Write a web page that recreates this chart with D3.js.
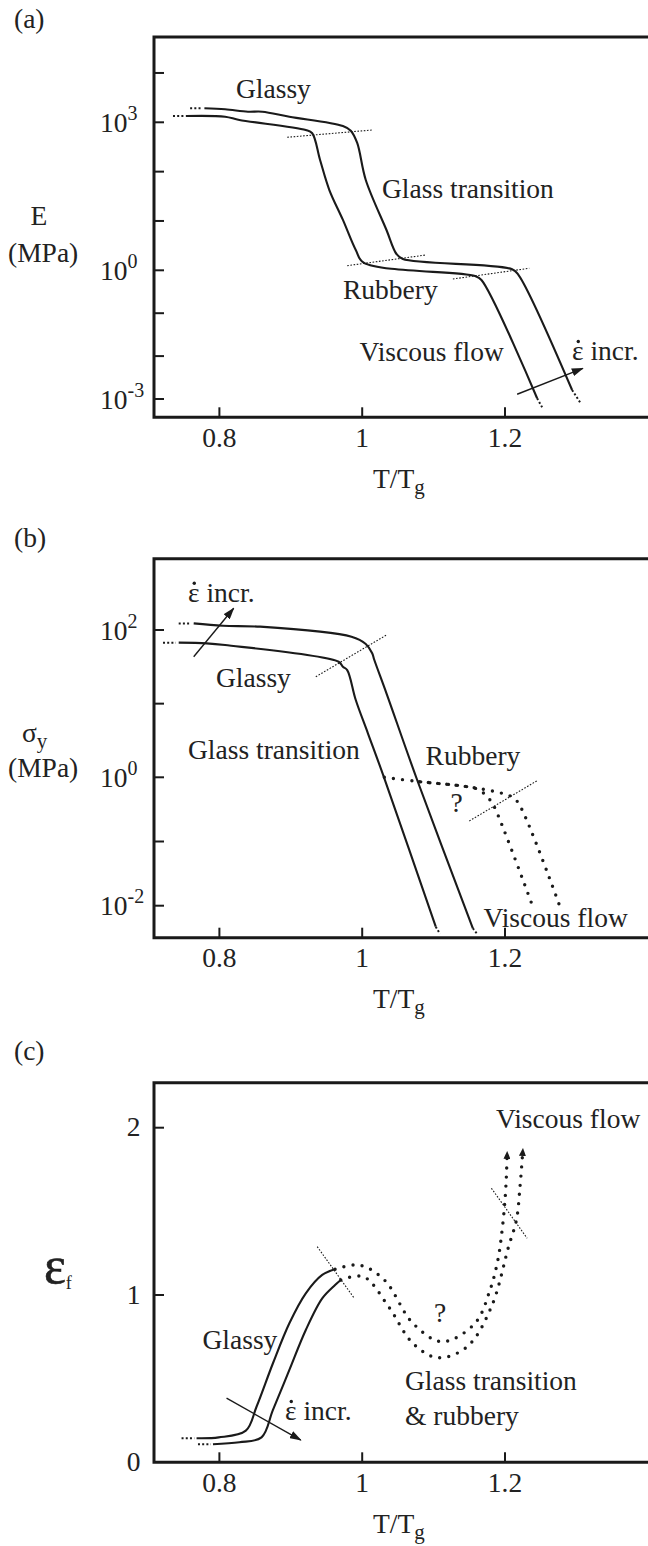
<!DOCTYPE html>
<html>
<head>
<meta charset="utf-8">
<script src="https://cdn.jsdelivr.net/npm/d3@7"></script>
<style>
  html, body { margin: 0; padding: 0; background: #fff; }
  svg { display: block; }
  text { font-family: "Liberation Serif", "Times New Roman", serif; fill: #222; }
</style>
</head>
<body>
<svg id="fig" width="648" height="1546"></svg>
<script>
// ---------- shared axis values ----------
const tempTicks = [0.8, 1.0, 1.2];
const tempTickLabels = ["0.8", "1", "1.2"];

// ---------- (a) modulus E (MPa) ----------
const modulusTicks = [1e4, 1e3, 1e2, 1e1, 1e0, 1e-1, 1e-2, 1e-3];
const modulusLabelled = [[1e3, "3"], [1e0, "0"], [1e-3, "-3"]];
const modulusSlowLead = [[0.735, 1343], [0.750, 1343]];
const modulusSlow = [[0.753, 1343], [0.808, 1300], [0.828, 1114], [0.921, 698], [0.930, 599], [0.941, 172], [0.954, 42.4], [0.973, 10.5], [0.991, 2.58], [1.002, 1.43], [1.158, 0.736], [1.167, 0.594], [1.245, 0.00104]];
const modulusSlowTail = [[1.245, 0.00104], [1.252, 0.000641]];
const modulusFastLead = [[0.759, 1920], [0.776, 1920]];
const modulusFast = [[0.779, 1920], [0.808, 1835], [0.840, 1640], [0.860, 1640], [0.898, 1300], [0.973, 842], [0.984, 676], [0.993, 381], [1.005, 67.7], [1.034, 6.56], [1.048, 2.14], [1.057, 1.69], [1.210, 1.05], [1.219, 0.777], [1.294, 0.00162]];
const modulusFastTail = [[1.294, 0.00162], [1.306, 0.000794]];
const modulusGlassyKnee = [[0.895, 497], [1.014, 698]];
const modulusRubberyOnset = [[0.979, 1.24], [1.089, 2.04]];
const modulusFlowOnset = [[1.127, 0.627], [1.234, 1.10]];
const modulusRateArrow = [[1.217, 0.00129], [1.309, 0.0052]];

// ---------- (b) yield stress sigma_y (MPa) ----------
const yieldTicks = [1e2, 1e1, 1e0, 1e-1, 1e-2];
const yieldLabelled = [[1e2, "2"], [1e0, "0"], [1e-2, "-2"]];
const yieldSlowLead = [[0.721, 67.3], [0.739, 67.3]];
const yieldSlow = [[0.743, 67.3], [0.782, 65.9], [0.808, 62.5], [0.967, 37.1], [0.973, 31.7], [0.979, 28.6], [0.991, 11.2], [1.008, 3.96], [1.031, 0.965], [1.103, 0.00471]];
const yieldSlowTail = [[1.103, 0.00471], [1.109, 0.00362]];
const yieldFastLead = [[0.743, 123], [0.760, 123]];
const yieldFast = [[0.764, 123], [0.805, 114], [0.857, 111], [0.985, 81.1], [1.005, 64.6], [1.014, 48.3], [1.017, 39.1], [1.034, 13.8], [1.077, 0.908], [1.155, 0.00445]];
const yieldFastTail = [[1.155, 0.00445], [1.161, 0.00362]];
const yieldRubberySlow = [[1.031, 1.0], [1.080, 0.854], [1.147, 0.714], [1.164, 0.634], [1.179, 0.443], [1.185, 0.348], [1.239, 0.00964]];
const yieldRubberyFast = [[1.080, 0.854], [1.147, 0.714], [1.196, 0.563], [1.210, 0.493], [1.219, 0.394], [1.277, 0.00964]];
const yieldGlassyKnee = [[0.935, 23.2], [1.034, 85.5]];
const yieldFlowOnset = [[1.150, 0.209], [1.245, 0.885]];
const yieldRateArrow = [[0.764, 43.4], [0.820, 197]];

// ---------- (c) strain to failure eps_f ----------
const strainTicks = [0, 1, 2];
const strainSlowLead = [[0.747, 0.144], [0.765, 0.144]];
const strainSlow = [[0.768, 0.144], [0.799, 0.149], [0.837, 0.189], [0.852, 0.332], [0.875, 0.592], [0.898, 0.831], [0.921, 1.010], [0.944, 1.120], [0.962, 1.154]];
const strainSlowBeyond = [[0.962, 1.154], [0.996, 1.179], [1.031, 1.090], [1.071, 0.831], [1.112, 0.721], [1.158, 0.831], [1.179, 1.030], [1.190, 1.209], [1.196, 1.389], [1.200, 1.568], [1.202, 1.717], [1.203, 1.849]];
const strainFastLead = [[0.770, 0.108], [0.788, 0.108]];
const strainFast = [[0.791, 0.108], [0.828, 0.120], [0.859, 0.149], [0.875, 0.313], [0.898, 0.552], [0.921, 0.791], [0.944, 0.980], [0.962, 1.060], [0.970, 1.090]];
const strainFastBeyond = [[0.970, 1.090], [1.002, 1.109], [1.037, 0.930], [1.071, 0.711], [1.106, 0.625], [1.147, 0.691], [1.181, 0.930], [1.205, 1.289], [1.216, 1.448], [1.221, 1.647], [1.224, 1.807], [1.225, 1.867]];
const strainGlassyEnd = [[0.937, 1.289], [0.989, 0.980]];
const strainFlowOnset = [[1.181, 1.638], [1.231, 1.339]];
const strainRateArrow = [[0.810, 0.383], [0.914, 0.133]];

// ---------- drawing ----------
const svg = d3.select("#fig");
const INK = "#1a1a1a";
const FONT = 27.5;
const SUB = 20;

const defs = svg.append("defs");
defs.append("marker").attr("id", "head")
  .attr("markerUnits", "userSpaceOnUse")
  .attr("viewBox", "0 0 12 8").attr("refX", 11).attr("refY", 4)
  .attr("markerWidth", 12).attr("markerHeight", 8).attr("orient", "auto")
  .append("path").attr("d", "M0,0 L12,4 L0,8 Z").attr("fill", INK);
defs.append("marker").attr("id", "headSmall")
  .attr("markerUnits", "userSpaceOnUse")
  .attr("viewBox", "0 0 8 7").attr("refX", 6).attr("refY", 3.5)
  .attr("markerWidth", 8).attr("markerHeight", 7).attr("orient", "auto")
  .append("path").attr("d", "M0,0 L8,3.5 L0,7 Z").attr("fill", INK);

const left = 154, right = 652;
const x = d3.scaleLinear().domain([0.8, 1.2]).range([219.4, 505]);

function frame(top, bottom) {
  svg.append("path")
    .attr("d", `M${right},${top} H${left} V${bottom} H${right}`)
    .attr("fill", "none").attr("stroke", INK).attr("stroke-width", 3);
  // x ticks point inward
  svg.append("g").selectAll("line").data(tempTicks).join("line")
    .attr("x1", d => x(d)).attr("x2", d => x(d))
    .attr("y1", bottom).attr("y2", bottom - 10)
    .attr("stroke", INK).attr("stroke-width", 2);
  svg.append("g").selectAll("text").data(tempTicks).join("text")
    .attr("x", d => x(d)).attr("y", bottom + 29.5)
    .attr("text-anchor", "middle").attr("font-size", FONT)
    .text((d, i) => tempTickLabels[i]);
  const t = svg.append("text").attr("x", 373).attr("y", bottom + 70.5).attr("font-size", FONT);
  t.append("tspan").text("T/T");
  t.append("tspan").attr("font-size", SUB + 1).attr("dy", 6).text("g");
}

function yTicks(y, ticks) {
  svg.append("g").selectAll("line").data(ticks).join("line")
    .attr("x1", left).attr("x2", left + 10)
    .attr("y1", d => y(d)).attr("y2", d => y(d))
    .attr("stroke", INK).attr("stroke-width", 2);
}

function powLabels(y, items) {
  items.forEach(([v, exp]) => {
    const t = svg.append("text").attr("x", 100).attr("y", y(v) + 9.5).attr("font-size", FONT);
    t.append("tspan").text("10");
    t.append("tspan").attr("font-size", SUB).attr("dy", -12).text(exp);
  });
}

function curve(pts, xs, ys, style) {
  const line = d3.line().x(d => xs(d[0])).y(d => ys(d[1]))
    .curve(pts.length > 2 ? d3.curveCatmullRom.alpha(0.5) : d3.curveLinear);
  const p = svg.append("path").attr("d", line(pts)).attr("fill", "none").attr("stroke", INK);
  if (style === "solid") p.attr("stroke-width", 2.1).attr("stroke-linejoin", "round");
  if (style === "lead") p.attr("stroke-width", 2).attr("stroke-dasharray", "2 2.2");
  if (style === "guide") p.attr("stroke-width", 1.1).attr("stroke-dasharray", "1.6 1.6");
  if (style === "bold") p.attr("stroke-width", 3.4).attr("stroke-linecap", "round").attr("stroke-dasharray", "0 9.2");
  if (style === "arrow") p.attr("stroke-width", 1.4).attr("marker-end", "url(#head)");
  return p;
}

function label(txt, px, py, size) {
  return svg.append("text").attr("x", px).attr("y", py).attr("font-size", size || FONT).text(txt);
}

// strain-rate label: epsilon with an overdot, then "incr."
function rateLabel(px, py) {
  const t = label("\u03B5 incr.", px, py);
  const w = t.node().getSubStringLength(0, 1);
  svg.append("circle").attr("cx", px + w / 2 + 0.5).attr("cy", py - 18.5).attr("r", 1.7).attr("fill", INK);
  return t;
}

// ===== (a) =====
{
  const top = 37, bottom = 417.3;
  const y = d3.scaleLog().domain([1e-3, 1, 1e3]).range([399, 270.3, 122.3]);
  frame(top, bottom);
  yTicks(y, modulusTicks);
  powLabels(y, modulusLabelled);
  label("(a)", 14, 28);
  label("E", 39, 225).attr("text-anchor", "middle");
  label("(MPa)", 8, 261.7);

  [modulusGlassyKnee, modulusRubberyOnset, modulusFlowOnset].forEach(g => curve(g, x, y, "guide"));
  curve(modulusSlowLead, x, y, "lead");
  curve(modulusSlow, x, y, "solid");
  curve(modulusSlowTail, x, y, "lead");
  curve(modulusFastLead, x, y, "lead");
  curve(modulusFast, x, y, "solid");
  curve(modulusFastTail, x, y, "lead");
  curve(modulusRateArrow, x, y, "arrow");

  label("Glassy", 236, 97.5);
  label("Glass transition", 382, 197.5);
  label("Rubbery", 343, 299.3);
  label("Viscous flow", 359.5, 361);
  rateLabel(572, 360);
}

// ===== (b) =====
{
  const top = 558.7, bottom = 937.7;
  const y = d3.scaleLog().domain([1e-2, 1, 1e2]).range([905.7, 777.3, 630]);
  frame(top, bottom);
  yTicks(y, yieldTicks);
  powLabels(y, yieldLabelled);
  label("(b)", 14, 547);
  const s = svg.append("text").attr("x", 22).attr("y", 741.7).attr("font-size", FONT);
  s.append("tspan").text("\u03C3");
  s.append("tspan").attr("font-size", SUB + 1).attr("dy", 6).text("y");
  label("(MPa)", 8, 776.7);

  [yieldGlassyKnee, yieldFlowOnset].forEach(g => curve(g, x, y, "guide"));
  curve(yieldSlowLead, x, y, "lead");
  curve(yieldSlow, x, y, "solid");
  curve(yieldSlowTail, x, y, "lead");
  curve(yieldFastLead, x, y, "lead");
  curve(yieldFast, x, y, "solid");
  curve(yieldFastTail, x, y, "lead");
  curve(yieldRubberySlow, x, y, "bold");
  curve(yieldRubberyFast, x, y, "bold");
  curve(yieldRateArrow, x, y, "arrow");

  rateLabel(188, 601.7);
  label("Glassy", 216, 686.7);
  label("Glass transition", 188, 759.3);
  label("Rubbery", 425.6, 765);
  label("?", 450.4, 811.7);
  label("Viscous flow", 483.5, 926.7);
}

// ===== (c) =====
{
  const top = 1082.7, bottom = 1462.3;
  const y = d3.scaleLinear().domain([0, 2]).range([1462.3, 1127.7]);
  frame(top, bottom);
  yTicks(y, strainTicks.filter(d => d > 0));
  svg.append("g").selectAll("text").data(strainTicks).join("text")
    .attr("x", 140.5).attr("y", d => y(d) + 8.5)
    .attr("text-anchor", "end").attr("font-size", FONT).text(d => d);
  label("(c)", 14, 1060);
  const e = svg.append("text").attr("x", 44).attr("y", 1283).attr("font-size", 52)
    .attr("stroke", INK).attr("stroke-width", 0.6);
  e.append("tspan").text("\u03B5");
  e.append("tspan").attr("font-size", 18).attr("stroke-width", 0).attr("dy", 6).text("f");

  [strainGlassyEnd, strainFlowOnset].forEach(g => curve(g, x, y, "guide"));
  curve(strainSlowLead, x, y, "lead");
  curve(strainSlow, x, y, "solid");
  curve(strainFastLead, x, y, "lead");
  curve(strainFast, x, y, "solid");
  curve(strainSlowBeyond, x, y, "bold").attr("marker-end", "url(#headSmall)");
  curve(strainFastBeyond, x, y, "bold").attr("marker-end", "url(#headSmall)");
  curve(strainRateArrow, x, y, "arrow");

  label("Viscous flow", 496, 1128.3);
  label("?", 434, 1321.7);
  label("Glassy", 202.5, 1349.3);
  rateLabel(285, 1420);
  label("Glass transition", 405, 1390);
  label("& rubbery", 405, 1425);
}
</script>
</body>
</html>
